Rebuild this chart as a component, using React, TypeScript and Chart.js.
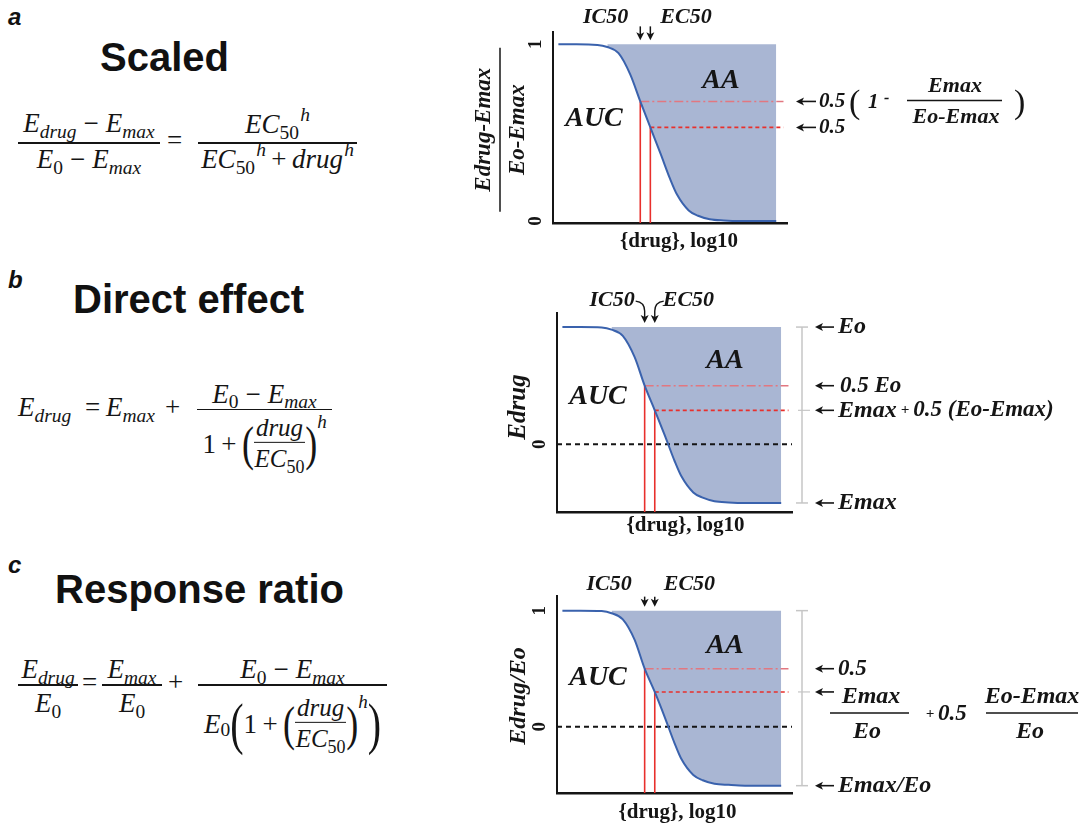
import React, { useEffect, useRef } from 'react';
import { Chart, registerables } from 'chart.js';

Chart.register(...registerables);

// ---------------- data ----------------
const DOSE_LOG = [0.23, 1.0, 1.9, 2.32, 2.8, 3.3, 3.73, 4.16, 4.6, 5.0, 5.3, 5.8, 6.2, 6.7, 7.3, 8.0, 9.54];
const SCALED_RESPONSE = [1.0, 1.0, 0.997, 0.985, 0.95, 0.83, 0.677, 0.53, 0.38, 0.24, 0.15, 0.06, 0.03, 0.01, 0.003, 0, 0];
const DIRECT_RESPONSE = [1.0, 1.0, 0.996, 0.978, 0.925, 0.745, 0.5, 0.29, 0.07, -0.14, -0.275, -0.41, -0.455, -0.485, -0.495, -0.5, -0.5];
const RATIO_RESPONSE = [1.0, 1.0, 0.996, 0.978, 0.925, 0.75, 0.5, 0.3, 0.075, -0.14, -0.28, -0.415, -0.46, -0.49, -0.5, -0.507, -0.507];

const IC50_LOG = 3.73;
const EC50_LOG = 4.16;
const SHADE_START_LOG = 2.32;
const REF_LINE_END_LOG = 9.85;
const X_MIN = 0;
const X_MAX = 10;

// [top, IC50 level, EC50 level, bottom]
const SCALED_LEVELS = [1, 0.677, 0.53, 0];
const DIRECT_LEVELS = [1, 0.5, 0.29, -0.5];
const RATIO_LEVELS = [1, 0.5, 0.3, -0.507];
const ZERO_LEVEL = 0;

const SCALED_TICK_VALUES = [1, 0];
const SCALED_TICK_LABELS = ['1', '0'];
const DIRECT_TICK_VALUES = [0];
const DIRECT_TICK_LABELS = ['0'];
const RATIO_TICK_VALUES = [1, 0];
const RATIO_TICK_LABELS = ['1', '0'];

const X_TITLE = '{drug}, log10';

// ---------------- styles ----------------
const INK = '#151515';
const SHADE = '#a9b6d3';
const CURVE = '#3a62ad';
const RED = '#e8302c';
const RED_DASHDOT = '#e27780';
const BRACKET = '#c6c6c6';
const SERIF = '"Liberation Serif", "DejaVu Serif", serif';
const SANS = '"Liberation Sans", Arial, sans-serif';
const F = (size: number, style = 'bold italic') => `${style} ${size}px ${SERIF}`;

// ---------------- canvas helpers ----------------
function text(ctx: any, s: string, x: number, y: number, font: string, align = 'left', baseline = 'middle') {
  ctx.save();
  ctx.font = font;
  ctx.fillStyle = INK;
  ctx.textAlign = align;
  ctx.textBaseline = baseline;
  ctx.fillText(s, x, y);
  ctx.restore();
}
function vtext(ctx: any, s: string, x: number, y: number, font: string) {
  ctx.save();
  ctx.translate(x, y);
  ctx.rotate(-Math.PI / 2);
  text(ctx, s, 0, 0, font, 'center', 'middle');
  ctx.restore();
}
function hline(ctx: any, x1: number, x2: number, y: number, w = 1.5, color = INK) {
  ctx.save();
  ctx.strokeStyle = color;
  ctx.lineWidth = w;
  ctx.beginPath();
  ctx.moveTo(x1, y);
  ctx.lineTo(x2, y);
  ctx.stroke();
  ctx.restore();
}
function vline(ctx: any, x: number, y1: number, y2: number, w = 1.5, color = INK) {
  ctx.save();
  ctx.strokeStyle = color;
  ctx.lineWidth = w;
  ctx.beginPath();
  ctx.moveTo(x, y1);
  ctx.lineTo(x, y2);
  ctx.stroke();
  ctx.restore();
}
function arrowLeft(ctx: any, tip: number, tail: number, y: number) {
  ctx.save();
  ctx.strokeStyle = INK;
  ctx.fillStyle = INK;
  ctx.lineWidth = 1.6;
  ctx.beginPath();
  ctx.moveTo(tail, y);
  ctx.lineTo(tip + 5, y);
  ctx.stroke();
  ctx.beginPath();
  ctx.moveTo(tip, y);
  ctx.lineTo(tip + 8, y - 4);
  ctx.lineTo(tip + 6, y);
  ctx.lineTo(tip + 8, y + 4);
  ctx.closePath();
  ctx.fill();
  ctx.restore();
}
function arrowHeadDown(ctx: any, x: number, tip: number) {
  ctx.beginPath();
  ctx.moveTo(x, tip);
  ctx.lineTo(x - 4, tip - 8);
  ctx.lineTo(x, tip - 6);
  ctx.lineTo(x + 4, tip - 8);
  ctx.closePath();
  ctx.fill();
}
function arrowDown(ctx: any, x: number, y0: number, tip: number) {
  ctx.save();
  ctx.strokeStyle = INK;
  ctx.fillStyle = INK;
  ctx.lineWidth = 1.5;
  ctx.beginPath();
  ctx.moveTo(x, y0);
  ctx.lineTo(x, tip - 5);
  ctx.stroke();
  arrowHeadDown(ctx, x, tip);
  ctx.restore();
}
function curvedArrow(ctx: any, x0: number, y0: number, x: number, tip: number) {
  ctx.save();
  ctx.strokeStyle = INK;
  ctx.fillStyle = INK;
  ctx.lineWidth = 1.4;
  ctx.beginPath();
  ctx.moveTo(x0, y0);
  ctx.quadraticCurveTo(x, y0 + 1, x, y0 + 10);
  ctx.lineTo(x, tip - 5);
  ctx.stroke();
  arrowHeadDown(ctx, x, tip);
  ctx.restore();
}
function runText(ctx: any, parts: [string, string, number][], x: number, y: number) {
  let cx = x;
  parts.forEach(([s, font, gap]) => {
    ctx.save();
    ctx.font = font;
    const w = ctx.measureText(s).width;
    ctx.restore();
    text(ctx, s, cx, y, font);
    cx += w + gap;
  });
}
function bracket(ctx: any, x: number, y1: number, y2: number, mids: number[]) {
  vline(ctx, x, y1, y2, 1.5, BRACKET);
  hline(ctx, x - 6, x + 6, y1, 1.5, BRACKET);
  hline(ctx, x - 6, x + 6, y2, 1.5, BRACKET);
  mids.forEach((m) => hline(ctx, x - 4, x + 8, m, 1.2, BRACKET));
}

// common marks: IC50/EC50 labels, AA / AUC, x title, y ticks
function commonMarks(ctx: any, h: any, cfg: any) {
  const { ca, px, py } = h;
  const yTop = py(1);
  const xi = px(IC50_LOG);
  const xe = px(EC50_LOG);
  text(ctx, 'IC50', xi - cfg.icGap, yTop - 21, F(22), 'right', 'alphabetic');
  text(ctx, 'EC50', xe + cfg.ecGap, yTop - 21, F(22), 'left', 'alphabetic');
  if (cfg.curvedArrows) {
    curvedArrow(ctx, xi - 9, yTop - 26, xi, yTop - 4);
    curvedArrow(ctx, xe + 9, yTop - 26, xe, yTop - 4);
  } else {
    arrowDown(ctx, xi, yTop - cfg.arrowLen - 4, yTop - 4);
    arrowDown(ctx, xe, yTop - cfg.arrowLen - 4, yTop - 4);
  }
  text(ctx, 'AA', ca.left + 168, yTop + cfg.aaDy, F(28), 'center');
  text(ctx, 'AUC', ca.left + 41, yTop + cfg.aucDy, F(28), 'center');
  text(ctx, X_TITLE, (ca.left + ca.right) / 2 + cfg.xtDx, ca.bottom + cfg.xtDy, F(21, 'bold'), 'center');
  cfg.tickValues.forEach((v: number, i: number) => vtext(ctx, cfg.tickLabels[i], ca.left - 17, py(v), F(19, 'bold')));
}

// ---------------- panels ----------------
const PANELS: any[] = [
  {
    left: 440, top: 0, width: 649, height: 265,
    padding: { left: 113, right: 302, top: 32, bottom: 42 },
    yMin: -0.011, yMax: 1.07,
    values: SCALED_RESPONSE, levels: SCALED_LEVELS, zero: false,
    tickValues: SCALED_TICK_VALUES, tickLabels: SCALED_TICK_LABELS,
    icGap: 12, ecGap: 10, curvedArrows: false, arrowLen: 14,
    aaDy: 36, aucDy: 74, xtDx: 9, xtDy: 19,
    draw(ctx: any, h: any) {
      const { ca, py, X } = h;
      const [top, ic, ec, bottom] = SCALED_LEVELS;
      // y title (fraction)
      ctx.save();
      ctx.translate(ca.left - 53, (py(top) + py(bottom)) / 2 - 3);
      ctx.rotate(-Math.PI / 2);
      text(ctx, 'Edrug-Emax', 0, -16, F(23), 'center');
      text(ctx, 'Eo-Emax', 0, 18, F(23), 'center');
      hline(ctx, -82, 82, 0, 1.5);
      ctx.restore();
      const yi = py(ic);
      const ye = py(ec);
      arrowLeft(ctx, X(796), X(816), yi);
      text(ctx, '0.5', X(819), yi, F(21));
      arrowLeft(ctx, X(796), X(816), ye);
      text(ctx, '0.5', X(819), ye, F(21));
      text(ctx, '(', X(849), yi + 3, `normal 34px ${SERIF}`);
      text(ctx, '1', X(868), yi + 1, F(21));
      text(ctx, '-', X(884), yi - 3, F(16));
      hline(ctx, X(907), X(1002), yi - 1, 1.6);
      text(ctx, 'Emax', X(955), yi - 9, F(22), 'center', 'alphabetic');
      text(ctx, 'Eo-Emax', X(956), yi + 22, F(22), 'center', 'alphabetic');
      text(ctx, ')', X(1014), yi + 3, `normal 34px ${SERIF}`);
    },
  },
  {
    left: 440, top: 280, width: 649, height: 265,
    padding: { left: 117, right: 297, top: 33, bottom: 33 },
    yMin: -0.577, yMax: 1.12,
    values: DIRECT_RESPONSE, levels: DIRECT_LEVELS, zero: true,
    tickValues: DIRECT_TICK_VALUES, tickLabels: DIRECT_TICK_LABELS,
    icGap: 10, ecGap: 8, curvedArrows: true, arrowLen: 14,
    aaDy: 34, aucDy: 70, xtDx: 11, xtDy: 14,
    draw(ctx: any, h: any) {
      const { ca, py, X } = h;
      const [top, ic, ec, bottom] = DIRECT_LEVELS;
      vtext(ctx, 'Edrug', ca.left - 38, 127, F(25));
      bracket(ctx, X(802), py(top), py(bottom), [py(ec)]);
      const tip = X(815);
      const tail = X(834);
      const tx = X(838);
      arrowLeft(ctx, tip, tail, py(top));
      text(ctx, 'Eo', tx, py(top), F(24));
      arrowLeft(ctx, tip, tail, py(ic));
      text(ctx, '0.5 Eo', X(840), py(ic), F(23));
      arrowLeft(ctx, tip, tail, py(ec));
      runText(ctx, [['Emax', F(24), 4], ['+', F(15), 4], ['0.5 (Eo-Emax)', F(23), 0]], tx, py(ec));
      arrowLeft(ctx, tip, tail, py(bottom));
      text(ctx, 'Emax', tx, py(bottom), F(24));
    },
  },
  {
    left: 440, top: 560, width: 649, height: 264,
    padding: { left: 117, right: 297, top: 36, bottom: 31 },
    yMin: -0.57, yMax: 1.126,
    values: RATIO_RESPONSE, levels: RATIO_LEVELS, zero: true,
    tickValues: RATIO_TICK_VALUES, tickLabels: RATIO_TICK_LABELS,
    icGap: 13, ecGap: 9, curvedArrows: false, arrowLen: 10,
    aaDy: 35, aucDy: 67, xtDx: 3, xtDy: 20,
    draw(ctx: any, h: any) {
      const { ca, py, X } = h;
      const [top, ic, ec, bottom] = RATIO_LEVELS;
      vtext(ctx, 'Edrug/Eo', ca.left - 38, 136, F(24));
      bracket(ctx, X(802), py(top), py(bottom), [py(ec)]);
      const tip = X(815);
      const tail = X(834);
      const tx = X(838);
      arrowLeft(ctx, tip, tail, py(ic));
      text(ctx, '0.5', tx, py(ic), F(23));
      const ye = py(ec);
      arrowLeft(ctx, tip, tail, ye);
      text(ctx, 'Emax', X(871), ye + 5, F(24), 'center');
      hline(ctx, X(830), X(909), ye + 21, 1.6);
      text(ctx, 'Eo', X(867), ye + 40, F(24), 'center');
      text(ctx, '+', X(930), ye + 22, F(15), 'center');
      text(ctx, '0.5', X(938), ye + 22, F(23));
      text(ctx, 'Eo-Emax', X(1032), ye + 5, F(24), 'center');
      hline(ctx, X(986), X(1078), ye + 21, 1.6);
      text(ctx, 'Eo', X(1030), ye + 40, F(24), 'center');
      arrowLeft(ctx, tip, tail, py(bottom));
      text(ctx, 'Emax/Eo', tx, py(bottom), F(24));
    },
  },
];

function makeChart(canvas: HTMLCanvasElement, cfg: any) {
  const [top, ic, ec] = cfg.levels;
  const curve = DOSE_LOG.map((x, i) => ({ x, y: cfg.values[i] }));
  const shade = curve.filter((p) => p.x >= SHADE_START_LOG);
  const datasets: any[] = [
    {
      label: 'AA', data: shade, order: 10, fill: { value: top }, backgroundColor: SHADE,
      borderColor: 'rgba(0,0,0,0)', borderWidth: 0, pointRadius: 0, cubicInterpolationMode: 'monotone',
    },
  ];
  if (cfg.zero) {
    datasets.push({
      label: 'zero', data: [{ x: X_MIN, y: ZERO_LEVEL }, { x: X_MAX, y: ZERO_LEVEL }], order: 6,
      borderColor: INK, borderWidth: 2, borderDash: [5, 4], pointRadius: 0, fill: false,
    });
  }
  datasets.push(
    {
      label: 'IC50 level', data: [{ x: IC50_LOG, y: ic }, { x: REF_LINE_END_LOG, y: ic }], order: 4,
      borderColor: RED_DASHDOT, borderWidth: 1.6, borderDash: [9, 3, 2, 3], pointRadius: 0, fill: false,
    },
    {
      label: 'EC50 level', data: [{ x: EC50_LOG, y: ec }, { x: REF_LINE_END_LOG, y: ec }], order: 4,
      borderColor: RED, borderWidth: 1.6, borderDash: [4, 3], pointRadius: 0, fill: false,
    },
    {
      label: 'IC50 drop', data: [{ x: IC50_LOG, y: cfg.yMin }, { x: IC50_LOG, y: ic }], order: 3,
      borderColor: RED, borderWidth: 1.6, pointRadius: 0, fill: false,
    },
    {
      label: 'EC50 drop', data: [{ x: EC50_LOG, y: cfg.yMin }, { x: EC50_LOG, y: ec }], order: 3,
      borderColor: RED, borderWidth: 1.6, pointRadius: 0, fill: false,
    },
    {
      label: 'curve', data: curve, order: 1, borderColor: CURVE, borderWidth: 2, pointRadius: 0,
      fill: false, cubicInterpolationMode: 'monotone',
    },
  );

  const annot = {
    id: 'annot',
    afterDraw(chart: any) {
      const ctx = chart.ctx;
      const xs = chart.scales.x;
      const ys = chart.scales.y;
      const h = {
        ca: chart.chartArea,
        px: (v: number) => xs.getPixelForValue(v),
        py: (v: number) => ys.getPixelForValue(v),
        X: (pageX: number) => pageX - cfg.left,
      };
      ctx.save();
      commonMarks(ctx, h, cfg);
      cfg.draw(ctx, h);
      ctx.restore();
    },
  };

  return new Chart(canvas, {
    type: 'line',
    data: { datasets },
    options: {
      responsive: false,
      animation: false,
      events: [],
      layout: { padding: cfg.padding },
      plugins: { legend: { display: false }, tooltip: { enabled: false }, title: { display: false } },
      scales: {
        x: {
          type: 'linear', min: X_MIN, max: X_MAX,
          ticks: { display: false }, grid: { display: false, drawTicks: false },
          border: { display: true, color: INK, width: 2.5 },
          afterFit: (s: any) => { s.height = 0; },
        },
        y: {
          type: 'linear', min: cfg.yMin, max: cfg.yMax,
          ticks: { display: false }, grid: { display: false, drawTicks: false },
          border: { display: true, color: INK, width: 2 },
          afterFit: (s: any) => { s.width = 0; },
        },
      },
    } as any,
    plugins: [annot],
  } as any);
}

function ChartPanel({ cfg }: { cfg: any }) {
  const ref = useRef<HTMLCanvasElement>(null);
  useEffect(() => {
    const chart = makeChart(ref.current as HTMLCanvasElement, cfg);
    return () => chart.destroy();
  }, [cfg]);
  return (
    <canvas
      ref={ref}
      width={cfg.width}
      height={cfg.height}
      style={{ position: 'absolute', left: cfg.left, top: cfg.top, width: cfg.width, height: cfg.height }}
    />
  );
}

// ---------------- formula (HTML) helpers ----------------
const MS = 27; // math font size
const BASE_OFF = 0.8375 * MS;
function Sub({ children, upright }: any) {
  return (
    <span style={{ fontSize: '0.72em', position: 'relative', top: '0.3em', fontStyle: upright ? 'normal' : 'italic' }}>
      {children}
    </span>
  );
}
function Sup({ children }: any) {
  return (
    <span style={{ fontSize: '0.72em', position: 'relative', top: '-0.62em', fontStyle: 'italic', marginLeft: '0.06em' }}>
      {children}
    </span>
  );
}
function Ev(sub: string, upright = false) {
  return (
    <>
      <i>E</i>
      <Sub upright={upright}>{sub}</Sub>
    </>
  );
}
const Minus = () => <span style={{ margin: '0 0.26em' }}>−</span>;
const PlusOp = () => <span style={{ margin: '0 0.2em' }}>+</span>;

const mathBase: any = { position: 'absolute', fontFamily: SERIF, fontSize: MS, lineHeight: 1, whiteSpace: 'nowrap', color: INK };

function At({ x, base, children }: any) {
  return <div style={{ ...mathBase, left: x, top: base - BASE_OFF }}>{children}</div>;
}
function FracAt({ x, y, w, num, den, numGap = 3, denGap = 5 }: any) {
  return (
    <>
      <div style={{ ...mathBase, left: x, width: w, top: y - numGap - MS, height: MS, textAlign: 'center' }}>{num}</div>
      <div style={{ position: 'absolute', left: x, width: w, top: y - 0.7, height: 1.4, background: INK }} />
      {den ? (
        <div style={{ ...mathBase, left: x, width: w, top: y + denGap, textAlign: 'center' }}>{den}</div>
      ) : null}
    </>
  );
}
function RowAt({ x, w, cy, children }: any) {
  return (
    <div
      style={{
        ...mathBase, left: x, width: w, top: cy, transform: 'translateY(-50%)',
        display: 'flex', alignItems: 'center', justifyContent: 'center',
      }}
    >
      {children}
    </div>
  );
}
function InlineFrac({ num, den }: any) {
  return (
    <span style={{ display: 'inline-flex', flexDirection: 'column', alignItems: 'center', fontSize: 25, lineHeight: 1 }}>
      <span style={{ padding: '0 2px 2px' }}>{num}</span>
      <span style={{ alignSelf: 'stretch', height: 1.3, background: INK }} />
      <span style={{ paddingTop: 3, paddingBottom: 2 }}>{den}</span>
    </span>
  );
}
function Paren({ ch, size, sy }: any) {
  return (
    <span style={{ display: 'inline-block', fontSize: size, lineHeight: 1, fontStyle: 'normal', transform: `scaleY(${sy})` }}>
      {ch}
    </span>
  );
}
const DrugOverEC50 = () => (
  <InlineFrac num={<i>drug</i>} den={<><i>EC</i><Sub upright>50</Sub></>} />
);

const titleStyle: any = { position: 'absolute', fontFamily: SANS, fontWeight: 'bold', fontSize: 40, lineHeight: 1, color: '#111', whiteSpace: 'nowrap' };
const letterStyle: any = { position: 'absolute', fontFamily: SANS, fontWeight: 'bold', fontStyle: 'italic', fontSize: 24, lineHeight: 1, color: '#111' };

export default function App() {
  return (
    <div style={{ position: 'absolute', left: 0, top: 0, width: 1089, height: 824, background: '#fff', overflow: 'hidden' }}>
      {/* panel letters and titles */}
      <div style={{ ...letterStyle, left: 8, top: 5 }}>a</div>
      <div style={{ ...titleStyle, left: 100, top: 37 }}>Scaled</div>
      <div style={{ ...letterStyle, left: 8, top: 268 }}>b</div>
      <div style={{ ...titleStyle, left: 73, top: 279 }}>Direct effect</div>
      <div style={{ ...letterStyle, left: 8, top: 553 }}>c</div>
      <div style={{ ...titleStyle, left: 55, top: 569 }}>Response ratio</div>

      {/* formula a */}
      <FracAt
        x={18} y={143} w={142} numGap={6} denGap={3}
        num={<>{Ev('drug')}<Minus />{Ev('max')}</>}
        den={<>{Ev('0', true)}<Minus />{Ev('max')}</>}
      />
      <At x={167} base={150}>=</At>
      <FracAt
        x={198} y={143} w={159} numGap={5} denGap={3}
        num={<><i>EC</i><Sub upright>50</Sub><Sup>h</Sup></>}
        den={<><i>EC</i><Sub upright>50</Sub><Sup>h</Sup><PlusOp /><i>drug</i><Sup>h</Sup></>}
      />

      {/* formula b */}
      <At x={18} base={417}>{Ev('drug')}</At>
      <At x={85} base={417}>=</At>
      <At x={106} base={417}>{Ev('max')}</At>
      <At x={165} base={417}>+</At>
      <FracAt x={197} y={409.5} w={135} numGap={2} num={<>{Ev('0', true)}<Minus />{Ev('max')}</>} />
      <RowAt x={197} w={135} cy={444}>
        <span>1</span>
        <PlusOp />
        <Paren ch="(" size={36} sy={1.35} />
        <DrugOverEC50 />
        <Paren ch=")" size={36} sy={1.35} />
        <span style={{ alignSelf: 'flex-start', fontSize: 19, fontStyle: 'italic', marginTop: -3 }}>h</span>
      </RowAt>

      {/* formula c */}
      <FracAt x={18} y={685} w={60} numGap={2} denGap={5} num={Ev('drug')} den={Ev('0', true)} />
      <At x={82} base={692}>=</At>
      <FracAt x={102} y={685} w={60} numGap={2} denGap={5} num={Ev('max')} den={Ev('0', true)} />
      <At x={168} base={692}>+</At>
      <FracAt x={198} y={685} w={189} numGap={2} num={<>{Ev('0', true)}<Minus />{Ev('max')}</>} />
      <RowAt x={198} w={189} cy={724}>
        {Ev('0', true)}
        <Paren ch="(" size={40} sy={1.45} />
        <span>1</span>
        <PlusOp />
        <Paren ch="(" size={36} sy={1.35} />
        <DrugOverEC50 />
        <Paren ch=")" size={36} sy={1.35} />
        <span style={{ alignSelf: 'flex-start', fontSize: 19, fontStyle: 'italic', marginTop: -3 }}>h</span>
        <Paren ch=")" size={40} sy={1.45} />
      </RowAt>

      {PANELS.map((cfg, i) => (
        <ChartPanel key={i} cfg={cfg} />
      ))}
    </div>
  );
}
